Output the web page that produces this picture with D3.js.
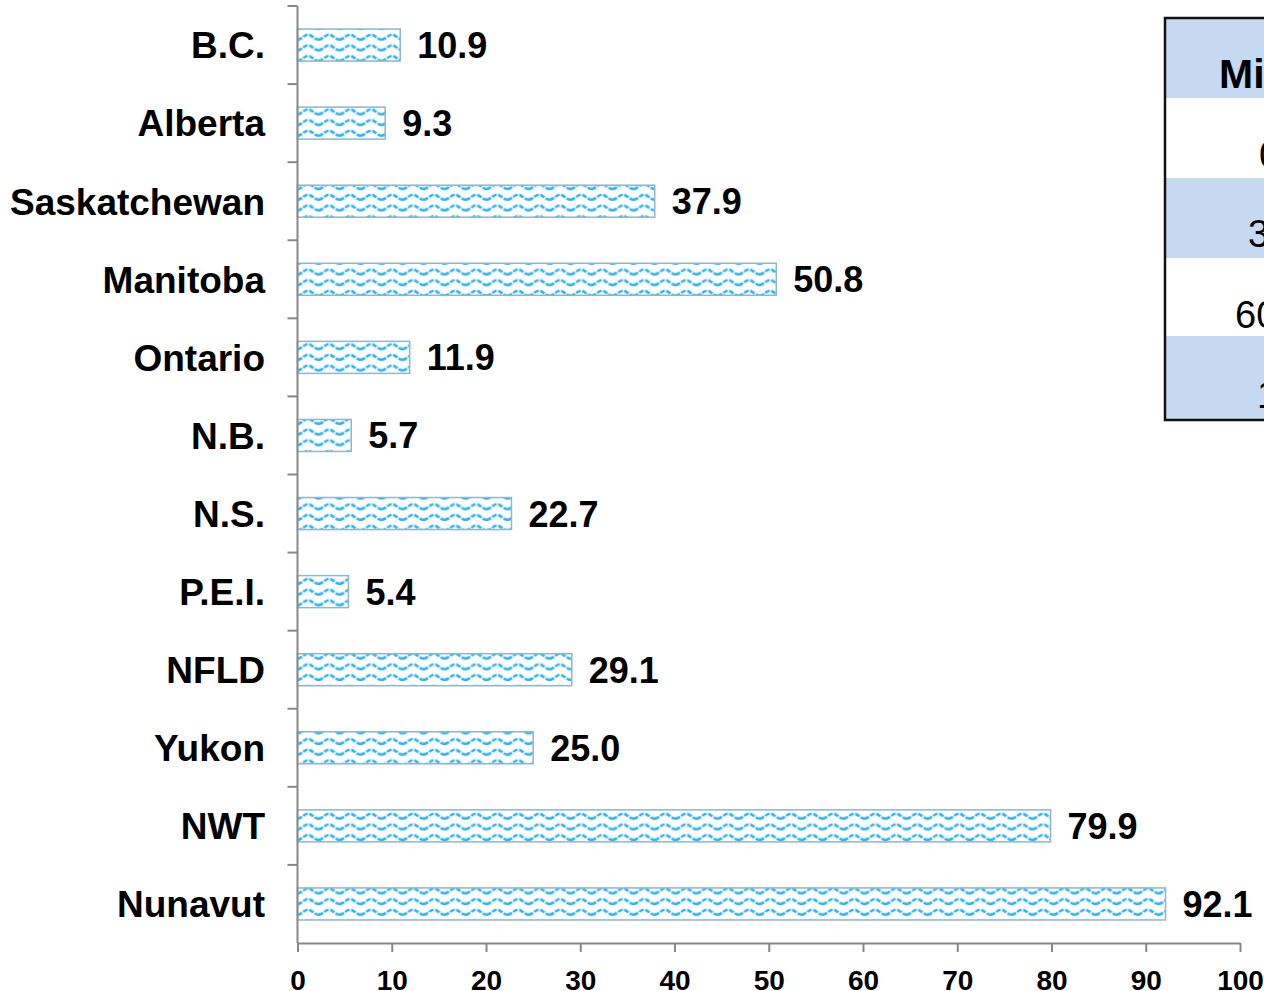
<!DOCTYPE html>
<html>
<head>
<meta charset="utf-8">
<script src="https://cdn.jsdelivr.net/npm/d3@7"></script>
<style>
  html, body { margin: 0; padding: 0; background: #fff; overflow: hidden; }
  svg { display: block; font-family: "Liberation Sans", Arial, sans-serif; }
</style>
</head>
<body>
<svg id="chart" width="1264" height="991"></svg>
<script>
const categories = ["B.C.", "Alberta", "Saskatchewan", "Manitoba", "Ontario", "N.B.", "N.S.", "P.E.I.", "NFLD", "Yukon", "NWT", "Nunavut"];
const values = [10.9, 9.3, 37.9, 50.8, 11.9, 5.7, 22.7, 5.4, 29.1, 25.0, 79.9, 92.1];
const xTicks = [0, 10, 20, 30, 40, 50, 60, 70, 80, 90, 100];
const tableHeader = "Min";
const tableRows = ["0", "30", "60", "1"];

const svg = d3.select("#chart");
const mLeft = 297.5, mRight = 1240, mTop = 6, mBottom = 943;

const x = d3.scaleLinear().domain([0, 100]).range([mLeft, mRight]);
const y = d3.scaleBand().domain(categories).range([mTop, mBottom]).paddingInner(0).paddingOuter(0);
const barH = y.bandwidth() * 0.41;

// wave pattern
const pw = 21, ph = barH / 3;
const defs = svg.append("defs");
const pat = defs.append("pattern")
  .attr("id", "wave").attr("patternUnits", "userSpaceOnUse")
  .attr("x", mLeft).attr("y", 0)
  .attr("width", pw).attr("height", ph);
pat.append("rect").attr("width", pw).attr("height", ph).attr("fill", "#fff");
pat.append("path")
  .attr("d", `M0,${ph*0.72} C${pw*0.2},${ph*0.72} ${pw*0.3},${ph*0.25} ${pw*0.5},${ph*0.25} C${pw*0.7},${ph*0.25} ${pw*0.8},${ph*0.72} ${pw},${ph*0.72}`)
  .attr("fill", "none").attr("stroke", "#2db5ee").attr("stroke-width", 2.6)
  .attr("stroke-dasharray", "5,1.5");

// table (right side)
const tbl = svg.append("g");
const rowBounds = [18, 98, 178, 258, 336, 420];
const rowFills = ["#c5d9f1", "#ffffff", "#c5d9f1", "#ffffff", "#c5d9f1"];
rowFills.forEach((f, i) => {
  tbl.append("rect").attr("x", 1165).attr("y", rowBounds[i]).attr("width", 200)
    .attr("height", rowBounds[i + 1] - rowBounds[i]).attr("fill", f);
});
tbl.append("rect").attr("x", 1165).attr("y", 18).attr("width", 200).attr("height", 402)
  .attr("fill", "none").attr("stroke", "#111").attr("stroke-width", 2.5);
tbl.append("text").attr("x", 1219).attr("y", 88).attr("font-size", 41).attr("font-weight", "bold")
  .attr("fill", "#000").text(tableHeader);
const rowTextX = [1259, 1248, 1235, 1257];
const rowTextY = [168, 247, 328, 408];
tableRows.forEach((t, i) => {
  tbl.append("text").attr("x", rowTextX[i]).attr("y", rowTextY[i]).attr("font-size", 38)
    .attr("fill", "#000").text(t);
});

// bars
svg.append("g").selectAll("rect").data(categories).join("rect")
  .attr("x", x(0))
  .attr("y", c => y(c) + y.bandwidth() / 2 - barH / 2)
  .attr("width", (c, i) => x(values[i]) - x(0))
  .attr("height", barH)
  .attr("fill", "url(#wave)")
  .attr("stroke", "#8fb6c9").attr("stroke-width", 1.5);

// value labels
svg.append("g").selectAll("text").data(categories).join("text")
  .attr("x", (c, i) => x(values[i]) + 17)
  .attr("y", c => y(c) + y.bandwidth() / 2)
  .attr("dy", "0.36em")
  .attr("font-size", 36).attr("font-weight", "bold").attr("fill", "#000")
  .text((c, i) => d3.format(".1f")(values[i]));

// y axis
const axisColor = "#888";
const yAxis = svg.append("g");
yAxis.append("line").attr("x1", mLeft).attr("x2", mLeft).attr("y1", mTop).attr("y2", mBottom)
  .attr("stroke", axisColor).attr("stroke-width", 2);
const boundaries = categories.map(c => y(c));
yAxis.selectAll("line.t").data(boundaries).join("line").attr("class", "t")
  .attr("x1", mLeft - 10).attr("x2", mLeft).attr("y1", d => d).attr("y2", d => d)
  .attr("stroke", axisColor).attr("stroke-width", 2);
yAxis.selectAll("text").data(categories).join("text")
  .attr("x", 265).attr("y", c => y(c) + y.bandwidth() / 2).attr("dy", "0.36em")
  .attr("text-anchor", "end").attr("font-size", 37).attr("font-weight", "bold")
  .attr("fill", "#000").text(c => c);

// x axis
const xAxis = svg.append("g").attr("transform", `translate(0,${mBottom})`)
  .call(d3.axisBottom(x).tickValues(xTicks).tickSize(9).tickSizeOuter(0).tickPadding(18));
xAxis.select(".domain").attr("stroke", axisColor).attr("stroke-width", 2);
xAxis.selectAll(".tick line").attr("stroke", axisColor).attr("stroke-width", 2);
xAxis.selectAll(".tick text").attr("font-size", 28).attr("font-weight", "bold")
  .attr("fill", "#000").attr("font-family", "'Liberation Sans', Arial, sans-serif");
</script>
</body>
</html>
